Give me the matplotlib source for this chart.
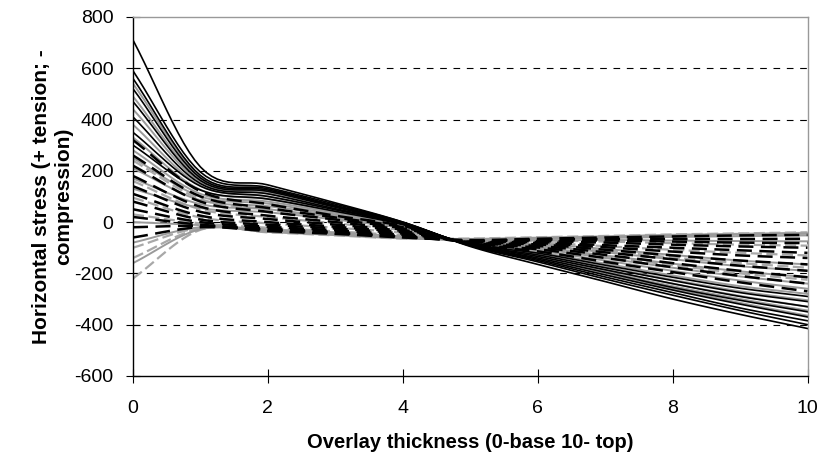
#!/usr/bin/env python
import numpy as np
import matplotlib
matplotlib.use('Agg')
import matplotlib.pyplot as plt

plt.rcParams['font.family'] = ['Liberation Sans', 'DejaVu Sans']
plt.rcParams['axes.unicode_minus'] = False

# overlay thickness positions (0 = base, 10 = top)
thick = [0, 1, 2, 3, 4, 5, 6, 7, 8, 9, 10]

# solid black series
solid_black = [
    [710, 215, 145, 75, 0, -95, -165, -232, -300, -360, -415],
    [590, 195, 135, 70, 0, -92, -155, -222, -285, -345, -400],
    [560, 182, 130, 65, -2, -92, -150, -214, -275, -335, -385],
    [520, 172, 125, 62, -3, -90, -145, -206, -265, -320, -370],
    [470, 162, 120, 58, -5, -90, -140, -196, -255, -305, -350],
    [410, 150, 110, 52, -5, -88, -134, -186, -240, -290, -330],
    [350, 140, 100, 48, -8, -88, -128, -178, -228, -275, -310],
    [300, 125, 90, 42, -10, -86, -121, -168, -215, -258, -290],
]

# solid grey series
solid_grey = [
    [540, 178, 125, 62, -3, -92, -146, -202, -260, -315, -365],
    [490, 166, 118, 58, -5, -90, -140, -193, -250, -300, -345],
    [440, 156, 112, 54, -6, -89, -134, -186, -240, -288, -330],
    [380, 142, 100, 48, -8, -88, -126, -175, -225, -270, -305],
    [330, 126, 90, 42, -10, -86, -118, -162, -208, -250, -280],
    [280, 110, 80, 36, -12, -84, -111, -150, -190, -228, -260],
    [250, 100, 72, 30, -14, -83, -104, -140, -178, -212, -240],
    [210, 85, 62, 25, -16, -82, -98, -130, -162, -192, -215],
    [170, 70, 50, 18, -20, -80, -91, -118, -145, -172, -190],
    [130, 55, 38, 10, -24, -78, -85, -105, -128, -150, -165],
    [0, -12, -28, -40, -56, -74, -72, -70, -72, -74, -75],
    [-80, -20, -34, -46, -60, -70, -66, -62, -58, -55, -52],
    [-160, -28, -38, -50, -63, -67, -62, -57, -52, -48, -44],
]

# dashed black series
dash_black = [
    [320, 120, 70, 25, -15, -86, -114, -155, -195, -235, -270],
    [260, 100, 55, 18, -20, -84, -106, -140, -176, -210, -240],
    [220, 80, 40, 10, -25, -82, -99, -128, -160, -190, -215],
    [180, 60, 25, 0, -30, -80, -93, -118, -145, -170, -190],
    [140, 40, 12, -10, -35, -79, -87, -108, -130, -150, -165],
    [110, 25, 0, -18, -40, -78, -82, -98, -115, -130, -140],
    [80, 10, -10, -25, -45, -77, -78, -90, -100, -110, -120],
    [50, 0, -18, -32, -50, -76, -74, -80, -88, -95, -100],
    [20, -10, -25, -38, -55, -74, -71, -72, -76, -80, -82],
    [-20, -15, -30, -42, -58, -72, -68, -66, -66, -66, -65],
    [-60, -20, -35, -46, -60, -70, -65, -60, -56, -52, -50],
]

# dashed grey series
dash_grey = [
    [240, 90, 50, 15, -22, -83, -102, -135, -168, -200, -225],
    [160, 50, 20, -5, -32, -80, -90, -112, -138, -160, -178],
    [95, 18, -5, -22, -42, -77, -80, -94, -108, -120, -130],
    [30, -5, -22, -36, -52, -75, -72, -76, -82, -88, -92],
    [-100, -22, -36, -48, -62, -68, -63, -58, -52, -48, -45],
    [-140, -25, -38, -50, -63, -66, -61, -56, -50, -46, -42],
    [-220, -30, -40, -52, -64, -64, -59, -54, -48, -44, -40],
]


def smooth(x, y, n=12):
    # Excel style smoothed line through the points (Catmull-Rom)
    x = np.asarray(x, float)
    y = np.asarray(y, float)
    px = np.concatenate([[2 * x[0] - x[1]], x, [2 * x[-1] - x[-2]]])
    py = np.concatenate([[2 * y[0] - y[1]], y, [2 * y[-1] - y[-2]]])
    t = np.linspace(0, 1, n, endpoint=False)
    xs, ys = [], []
    for i in range(1, len(px) - 2):
        for p, out in ((px, xs), (py, ys)):
            p0, p1, p2, p3 = p[i - 1], p[i], p[i + 1], p[i + 2]
            out.append(0.5 * (2 * p1 + (-p0 + p2) * t
                              + (2 * p0 - 5 * p1 + 4 * p2 - p3) * t ** 2
                              + (-p0 + 3 * p1 - 3 * p2 + p3) * t ** 3))
    xs.append([x[-1]])
    ys.append([y[-1]])
    return np.concatenate(xs), np.concatenate(ys)


fig = plt.figure(figsize=(8.23, 4.59), dpi=100)
ax = fig.add_axes([0.1616, 0.181, 0.8196, 0.782])

for vals in dash_grey:
    sx, sy = smooth(thick, vals)
    ax.plot(sx, sy, color='#a8a8a8', lw=1.6, dashes=(5, 2))
for vals in solid_grey:
    sx, sy = smooth(thick, vals)
    ax.plot(sx, sy, color='#9a9a9a', lw=1.4)
for vals in dash_black:
    sx, sy = smooth(thick, vals)
    ax.plot(sx, sy, color='black', lw=1.8, dashes=(6, 3))
for vals in solid_black:
    sx, sy = smooth(thick, vals)
    ax.plot(sx, sy, color='black', lw=1.2)

for yv in [-400, -200, 0, 200, 400, 600]:
    ax.axhline(yv, color='black', lw=0.8, dashes=(6, 6), zorder=0)

ax.set_xlim(0, 10)
ax.set_ylim(-600, 800)
ax.set_xticks([0, 2, 4, 6, 8, 10])
ax.set_yticks(range(-600, 801, 200))
ax.tick_params(axis='x', direction='inout', length=10, pad=12, labelsize=14)
ax.tick_params(axis='y', direction='inout', length=10, pad=9, labelsize=14)
ax.spines['top'].set_color('#999999')
ax.spines['right'].set_color('#999999')
for s in ax.spines.values():
    s.set_linewidth(1.0)

ax.set_xlabel('Overlay thickness (0-base 10- top)', fontsize=14.5,
              fontweight='bold', labelpad=12)
ax.set_ylabel('Horizontal stress (+ tension; -\ncompression)', fontsize=15,
              fontweight='bold', labelpad=1)

plt.savefig('out.png', dpi=100)
